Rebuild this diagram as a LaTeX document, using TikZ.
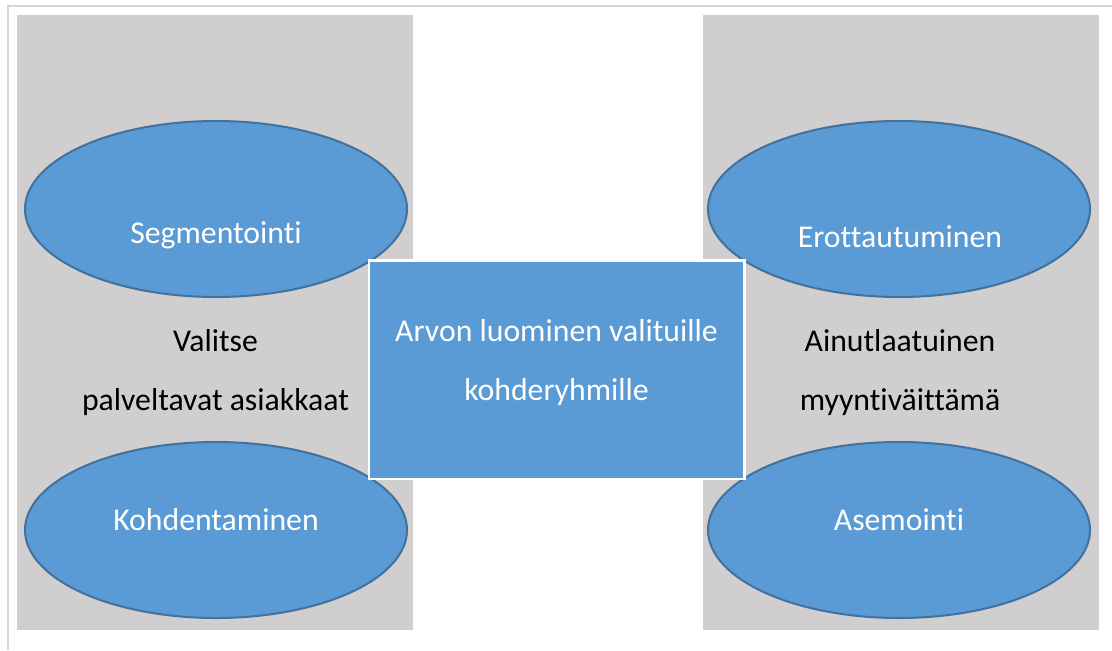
\documentclass[tikz,border=0pt]{standalone}
\usepackage{fontspec}
\setmainfont{Carlito}[RawFeature={-liga;-clig;-dlig}]
\usetikzlibrary{shapes.geometric}
\definecolor{panelgray}{HTML}{D0CECE}
\definecolor{accblue}{HTML}{5B9BD5}
\definecolor{edgeblue}{HTML}{41719C}
\definecolor{framegray}{HTML}{D6D6D6}
\tikzset{
  oval/.style={ellipse, draw=edgeblue, line width=1.5pt, fill=accblue, inner sep=0pt,
    minimum width=286.5pt, minimum height=132pt},
  centrebox/.style={rectangle, draw=white, line width=1.7pt, fill=accblue, inner sep=0pt,
    minimum width=281.6pt, minimum height=163.9pt},
  wlabel/.style={text=white, anchor=base, inner sep=0pt, font=\fontsize{23.8}{28}\selectfont},
  blabel/.style={text=black, anchor=base, inner sep=0pt, font=\fontsize{23.8}{28}\selectfont},
  panel/.style={fill=panelgray},
  frameline/.style={draw=framegray, line width=1.2pt}
}
\begin{document}
\begin{tikzpicture}[x=0.75pt,y=-0.75pt]
\useasboundingbox (0,0) rectangle (1112,650);
% frame
\coordinate (fc) at (8,6);
\coordinate (fr) at (1112,6);
\coordinate (fb) at (8,650);
\draw[frameline] (fr) -- (fc) -- (fb);
% panels
\fill[panel] (17,15) rectangle (413,630);
\fill[panel] (703,15) rectangle (1099,630);
% ellipses
\node[oval] (seg) at (216,209) {};
\node[oval] (koh) at (216,530) {};
\node[oval] (ero) at (899,209) {};
\node[oval] (ase) at (899,530) {};
\node[wlabel] (segt) at (216,243) {Segmentointi};
\node[wlabel] (koht) at (216,530) {Kohdentaminen};
\node[wlabel] (erot) at (900,247) {Erottautuminen};
\node[wlabel] (aset) at (899,530) {Asemointi};
% side texts
\node[blabel] (val1) at (215.5,351.7) {Valitse};
\node[blabel] (val2) at (215.5,410) {palveltavat asiakkaat};
\node[blabel] (ain1) at (900,351.7) {Ainutlaatuinen};
\node[blabel] (ain2) at (900,410) {myyntiväittämä};
% centre box
\node[centrebox] (box) at (556.75,369.75) {};
\node[wlabel] (box1) at (556.5,341.7) {Arvon luominen valituille};
\node[wlabel] (box2) at (556.5,400) {kohderyhmille};
\end{tikzpicture}
\end{document}
